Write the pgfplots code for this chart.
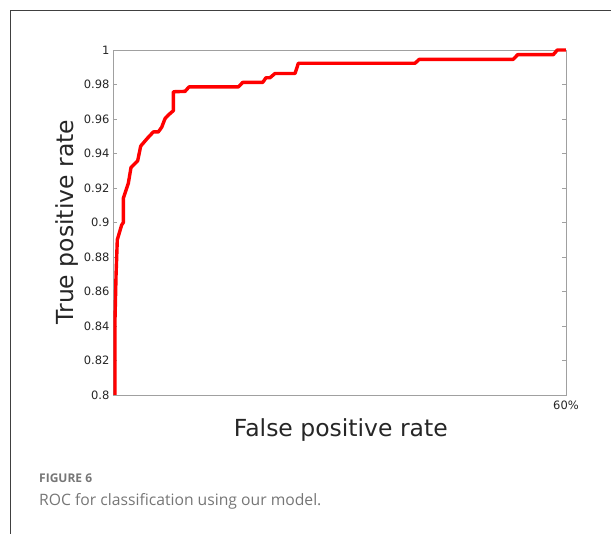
\documentclass[border=0pt]{standalone}
\usepackage{fontspec}
\setmainfont{DejaVu Sans}
\newfontfamily\capfont{Open Sans}
\usepackage{pgfplots}
\pgfplotsset{compat=1.18}
\definecolor{axgray}{HTML}{A0A0A0}
\definecolor{txt}{HTML}{262626}
\definecolor{capgray}{HTML}{767676}
\definecolor{framegray}{HTML}{404040}

\begin{document}
\begin{tikzpicture}[x=1pt,y=1pt]
\useasboundingbox (0,0) rectangle (611,534);
% figure frame (cropped)
\draw[framegray,line width=0.9pt] (10,0) -- (10,524) -- (611,524);
% caption
\node[anchor=base west,inner sep=0,text=capgray,font=\capfont\fontsize{12}{15}\selectfont\bfseries] at (39,51) {FIGURE 6};
\node[anchor=base west,inner sep=0,text=capgray,font=\capfont\fontsize{15.7}{18}\selectfont] at (39,28.3) {ROC for classification using our model.};

\begin{axis}[
  at={(113pt,139pt)}, anchor=south west,
  scale only axis,
  width=453pt, height=345pt,
  xmin=0, xmax=0.6, ymin=0.8, ymax=1,
  clip=false,
  axis line style={axgray, line width=0.8pt},
  tick style={axgray, line width=0.8pt},
  major tick length=4pt,
  tick align=inside,
  xtick={0.6}, xticklabels={60\%},
  ytick={0.8,0.82,...,1.001},
  ytick pos=both,
  xtick pos=bottom,
  /pgf/number format/assume math mode=true,
  ticklabel style={font=\fontsize{11.5}{13}\selectfont, text=txt},
  xticklabel style={yshift=-2pt},
  xlabel={False positive rate},
  ylabel={True positive rate},
  label style={font=\fontsize{23.5}{26}\selectfont, text=txt},
  xlabel style={at={(axis description cs:0.503,-0.101)}, anchor=center},
  ylabel style={at={(axis description cs:-0.1015,0.501)}, anchor=center},
]
\addplot[red, line width=3.4pt, line join=round] coordinates {
  (0.0026,0.800)(0.0026,0.843)(0.0040,0.869)(0.0057,0.890)(0.0115,0.8986)
  (0.0137,0.900)(0.0137,0.914)(0.0203,0.9227)(0.0238,0.9318)(0.0327,0.9358)
  (0.0367,0.9443)(0.0455,0.9488)(0.0534,0.9525)(0.0600,0.9525)(0.0645,0.9552)
  (0.0689,0.9602)(0.0733,0.9623)(0.0799,0.9648)(0.0799,0.9758)(0.0954,0.9760)
  (0.1007,0.9786)(0.1660,0.9786)(0.1718,0.9812)(0.1983,0.9812)(0.2026,0.9839)
  (0.2079,0.9839)(0.2146,0.9864)(0.2411,0.9864)(0.2455,0.9923)(0.4000,0.9923)
  (0.4057,0.9946)(0.5302,0.9946)(0.5360,0.9973)(0.5832,0.9973)(0.5885,1.000)
  (0.6000,1.000)
};
\end{axis}
\end{tikzpicture}
\end{document}
